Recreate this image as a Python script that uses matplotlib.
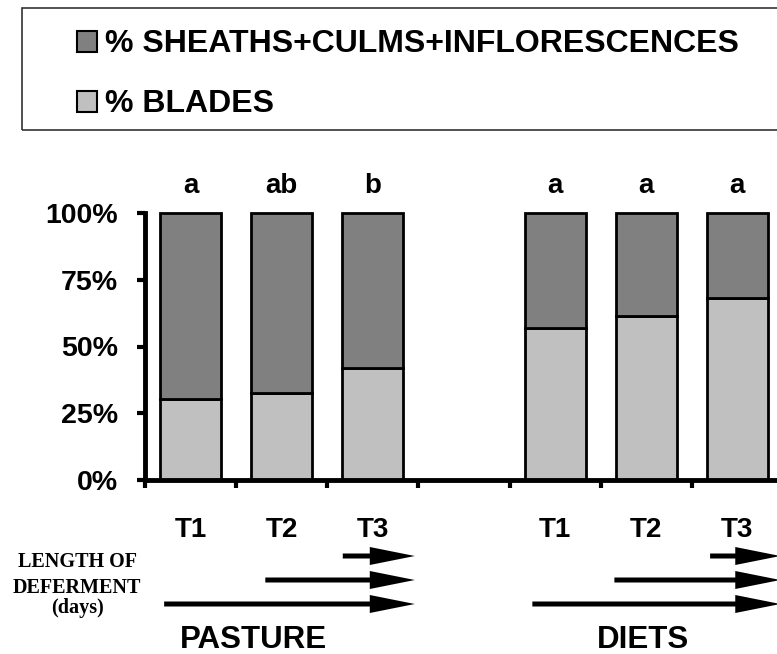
import matplotlib.pyplot as plt
from matplotlib.patches import Rectangle, FancyArrow

W, H = 777, 654

# data
treatments = ['T1', 'T2', 'T3', 'T1', 'T2', 'T3']
groups = ['PASTURE', 'DIETS']
blades = [0.303, 0.325, 0.418, 0.570, 0.614, 0.680]
sheaths = [1 - b for b in blades]
letters = ['a', 'ab', 'b', 'a', 'a', 'a']
slots = [0, 1, 2, 4, 5, 6]

# deferment arrows (start of each treatment, end of each group)
arrow_start = [0.21, 1.32, 2.17, 4.25, 5.15, 6.20]
arrow_end = [2.96, 2.96, 2.96, 6.97, 6.97, 6.97]

SANS = 'Liberation Sans'
SERIF = 'Liberation Serif'
DARK = '#808080'
LIGHT = '#c0c0c0'

fig = plt.figure(figsize=(W / 100, H / 100), dpi=100)
# axes: y axis at x=145px, 0% at y=480px, 100% at y=213px
ax = fig.add_axes([145 / W, 1 - 480 / H, 638 / W, 267 / H])


def ay(py):
    # pixel row -> axes fraction
    return (480 - py) / 267


x = [s + 0.5 for s in slots]
ax.bar(x, blades, width=0.67, color=LIGHT, edgecolor='black', linewidth=2,
       clip_on=False, zorder=3)
ax.bar(x, sheaths, bottom=blades, width=0.67, color=DARK, edgecolor='black',
       linewidth=2, clip_on=False, zorder=3)

ax.set_xlim(0, 7)
ax.set_ylim(0, 1)
for s in ['top', 'right']:
    ax.spines[s].set_visible(False)
for s in ['left', 'bottom']:
    ax.spines[s].set_linewidth(3.5)
    ax.spines[s].set_zorder(4)

ax.set_xticks(range(8))
ax.set_xticklabels([])
ax.tick_params(axis='x', direction='out', length=6, width=3)
ax.set_yticks([0, 0.25, 0.5, 0.75, 1.0])
ax.set_yticklabels(['0%', '25%', '50%', '75%', '100%'])
ax.tick_params(axis='y', direction='out', length=6, width=3, pad=13.5)
for lab in ax.get_yticklabels():
    lab.set_fontfamily(SANS)
    lab.set_fontweight('bold')
    lab.set_fontsize(20.5)

trans = ax.get_xaxis_transform()
for xi, let, t in zip(x, letters, treatments):
    ax.text(xi, ay(193), let, transform=trans, ha='center', va='baseline',
            fontsize=20, fontweight='bold', family=SANS)
    ax.text(xi, ay(537), t, transform=trans, ha='center', va='baseline',
            fontsize=20, fontweight='bold', family=SANS, clip_on=False)

# arrows drawn in pixel space so the head keeps its shape
rows = [604, 580, 556]
for i, (x0, x1) in enumerate(zip(arrow_start, arrow_end)):
    yy = ay(rows[i % 3])
    p0 = trans.transform((x0, yy))
    p1 = trans.transform((x1, yy))
    arr = FancyArrow(p0[0], p0[1], p1[0] - p0[0], 0, width=5,
                     head_width=18, head_length=45, length_includes_head=True,
                     transform=None, color='black', linewidth=0)
    fig.add_artist(arr)

fig.text(253 / W, 1 - 648 / H, groups[0], ha='center', va='baseline',
         fontsize=22.5, fontweight='bold', family=SANS)
fig.text(643 / W, 1 - 648 / H, groups[1], ha='center', va='baseline',
         fontsize=22.5, fontweight='bold', family=SANS)

for txt, py in zip(['LENGTH OF', 'DEFERMENT', '(days)'], [567, 593, 613]):
    fig.text(77 / W, 1 - py / H, txt, ha='center', va='baseline',
             fontsize=14.5, fontweight='bold', family=SERIF)

# legend box
fig.patches.append(Rectangle((22 / W, 1 - 130 / H), 800 / W, 122 / H,
                             transform=fig.transFigure, fill=False,
                             edgecolor='#333333', linewidth=1.2))
legend_items = [('% SHEATHS+CULMS+INFLORESCENCES', DARK, 52),
                ('% BLADES', LIGHT, 112)]
for label, col, base in legend_items:
    fig.patches.append(Rectangle((77 / W, 1 - base / H), 20 / W, 21 / H,
                                 transform=fig.transFigure, facecolor=col,
                                 edgecolor='black', linewidth=1.5))
    fig.text(105 / W, 1 - base / H, label, ha='left', va='baseline',
             fontsize=23, fontweight='bold', family=SANS)

fig.savefig('out.png', dpi=100)
